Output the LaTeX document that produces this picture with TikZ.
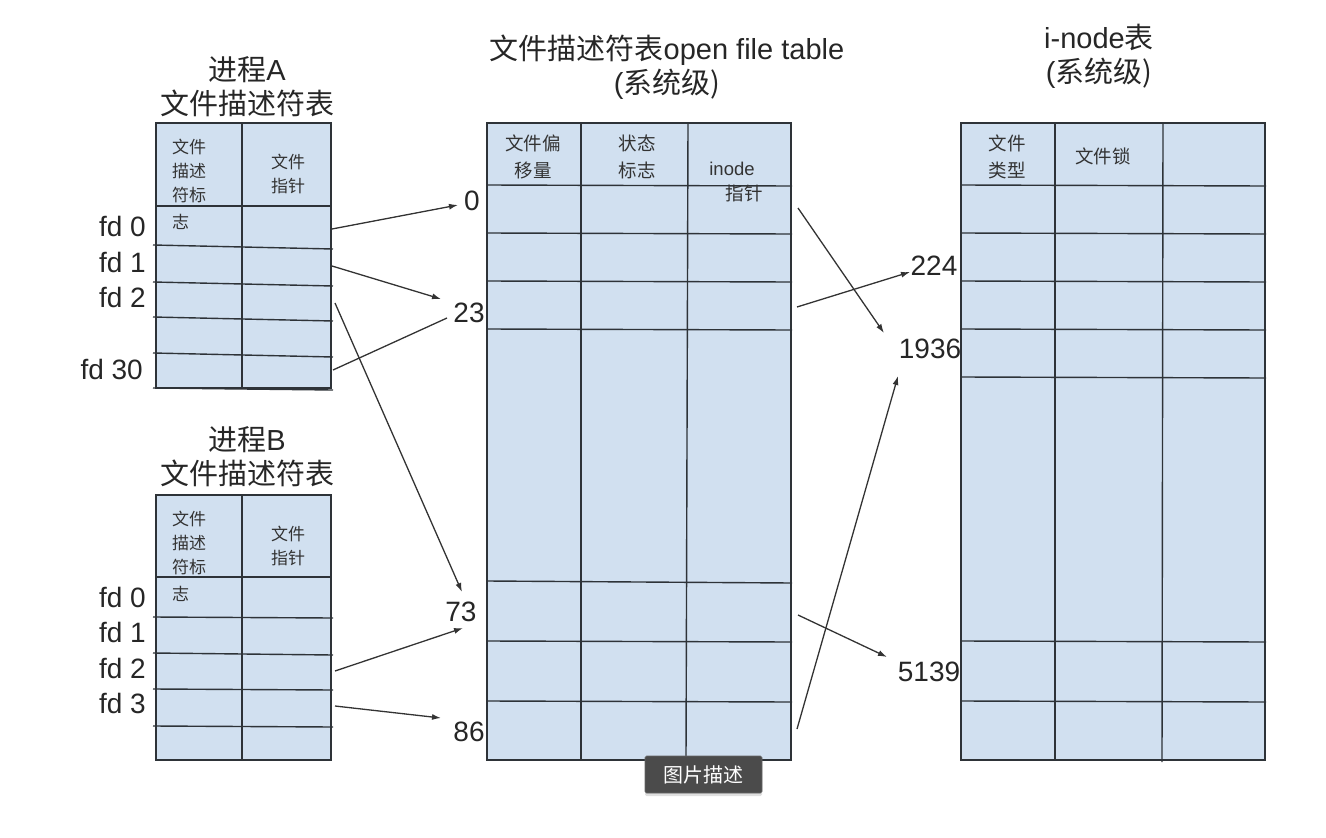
\documentclass[tikz,border=0pt]{standalone}
\usepackage{fontspec}
\setmainfont{Liberation Sans}
\newfontfamily\cjk{Noto Sans CJK SC}
\usetikzlibrary{arrows.meta,shadows}
\definecolor{cellblue}{HTML}{D1E0F0}
\definecolor{gridline}{HTML}{2E3338}
\definecolor{arrowgray}{HTML}{333333}
\definecolor{tipgray}{HTML}{4B4B4B}
\tikzset{
  tablebox/.style={fill=cellblue, draw=gridline, line width=1.6pt},
  gridrule/.style={draw=gridline, line width=1.4pt},
  bigtext/.style={font=\fontsize{29}{33}\selectfont, inner sep=0pt, text=black!85},
  celltext/.style={font=\cjk\fontsize{17}{24}\selectfont, inner sep=0pt, text=black!80, align=center},
  headtext/.style={font=\cjk\fontsize{18.5}{27}\selectfont, inner sep=0pt, text=black!80, align=center},
  lbl/.style={font=\fontsize{28}{32}\selectfont, inner sep=0pt, text=black!85},
  ptr/.style={draw=arrowgray, line width=1.3pt, -{Latex[length=9pt,width=6pt]}},
  plainptr/.style={draw=arrowgray, line width=1.3pt},
}
\begin{document}
\begin{tikzpicture}[x=1pt,y=-1pt]
\useasboundingbox (0,0) rectangle (1326,838);

% ---------- process A descriptor table ----------
\node[bigtext, align=center] (titleA) at (247,87) {{\cjk 进程}A\\[1pt]{\cjk 文件描述符表}};
\fill[cellblue] (156,123) rectangle (331,388);
\draw[gridrule] (156,123) rectangle (331,388);
\draw[gridrule] (242,123) -- (242,388);
\draw[gridrule] (156,206) -- (331,206);
\draw[gridrule] (153,245) -- (333,249);
\draw[gridrule] (153,282) -- (333,286);
\draw[gridrule] (153,317) -- (333,321);
\draw[gridrule] (153,353) -- (333,357);
\draw[gridrule] (153,388) -- (333,390);
\node[celltext, anchor=north west, align=left] (hA1) at (172,139) {文件\\描述\\符标\\[3pt]志};
\node[celltext] (hA2) at (288,174) {文件\\指针};
\node[lbl, anchor=east] (a0) at (146,226) {fd 0};
\node[lbl, anchor=east] (a1) at (146,262) {fd 1};
\node[lbl, anchor=east] (a2) at (146,297) {fd 2};
\node[lbl, anchor=east] (a30) at (143,369) {fd 30};

% ---------- process B descriptor table ----------
\node[bigtext, align=center] (titleB) at (247,457) {{\cjk 进程}B\\[1pt]{\cjk 文件描述符表}};
\fill[cellblue] (156,495) rectangle (331,760);
\draw[gridrule] (156,495) rectangle (331,760);
\draw[gridrule] (242,495) -- (242,760);
\draw[gridrule] (156,577) -- (331,577);
\draw[gridrule] (153,617) -- (333,618);
\draw[gridrule] (153,653) -- (333,655);
\draw[gridrule] (153,689) -- (333,690);
\draw[gridrule] (153,726) -- (333,727);
\node[celltext, anchor=north west, align=left] (hB1) at (172,511) {文件\\描述\\符标\\[3pt]志};
\node[celltext] (hB2) at (288,546) {文件\\指针};
\node[lbl, anchor=east] (b0) at (146,597) {fd 0};
\node[lbl, anchor=east] (b1) at (146,632) {fd 1};
\node[lbl, anchor=east] (b2) at (146,668) {fd 2};
\node[lbl, anchor=east] (b3) at (146,703) {fd 3};

% ---------- open file table ----------
\node[bigtext, align=center] (titleF) at (667,67) {{\cjk 文件描述符表}open file table\\[1pt](\cjk 系统级)};
\fill[cellblue] (487,123) rectangle (791,760);
\draw[gridrule] (487,123) rectangle (791,760);
\draw[gridrule] (581,123) -- (581,760);
\draw[gridrule] (688,123) -- (686,760);
\foreach \yy in {185,233,281,329,641,701}
  \draw[gridrule] (487,\yy) -- (792,\yy+1);
\draw[gridrule] (487,581) -- (792,583);
\node[headtext] (hF1) at (533,157) {文件偏\\移量};
\node[headtext] (hF2) at (637,157) {状态\\标志};
\node[font=\fontsize{18.5}{20}\selectfont, inner sep=0pt, text=black!80] (hF3) at (732,169) {inode};
\node[headtext] (hF4) at (744,193) {指针};
\node[lbl] (n0) at (472,201) {0};
\node[lbl] (n23) at (469,313) {23};
\node[lbl] (n73) at (461,612) {73};
\node[lbl] (n86) at (469,732) {86};

% ---------- i-node table ----------
\node[bigtext, align=center] (titleI) at (1099,56) {i-node{\cjk 表}\\[1pt](\cjk 系统级)};
\fill[cellblue] (961,123) rectangle (1265,760);
\draw[gridrule] (961,123) rectangle (1265,760);
\draw[gridrule] (1055,123) -- (1055,760);
\draw[gridrule] (1163,123) -- (1162,762);
\foreach \yy in {185,233,281,329,377,641,701}
  \draw[gridrule] (961,\yy) -- (1266,\yy+1);
\node[headtext] (hI1) at (1007,157) {文件\\类型};
\node[headtext] (hI2) at (1103,156) {文件锁};
\node[lbl] (n224) at (934,266) {224};
\node[lbl] (n1936) at (930,349) {1936};
\node[lbl] (n5139) at (929,672) {5139};

% ---------- pointer ends ----------
\coordinate (sA0) at (332,229);  \coordinate (eA0) at (458,205);
\coordinate (sA1) at (332,266);  \coordinate (eA1) at (441,299);
\coordinate (sA2) at (335,303);  \coordinate (eA2) at (462,592);
\coordinate (sA30) at (333,370); \coordinate (eA30) at (447,318);
\coordinate (sB2) at (335,671);  \coordinate (eB2) at (463,628);
\coordinate (sB3) at (335,706);  \coordinate (eB3) at (441,718);
\coordinate (sF0) at (798,208);  \coordinate (eF0) at (884,333);
\coordinate (sF1) at (797,307);  \coordinate (eF1) at (910,272);
\coordinate (sF2) at (798,615);  \coordinate (eF2) at (887,657);
\coordinate (sF3) at (797,729);  \coordinate (eF3) at (898,376);

\draw[ptr] (sA0) -- (eA0);
\draw[ptr] (sA1) -- (eA1);
\draw[ptr] (sA2) -- (eA2);
\draw[plainptr] (sA30) -- (eA30);
\draw[ptr] (sB2) -- (eB2);
\draw[ptr] (sB3) -- (eB3);
\draw[ptr] (sF0) -- (eF0);
\draw[ptr] (sF1) -- (eF1);
\draw[ptr] (sF2) -- (eF2);
\draw[ptr] (sF3) -- (eF3);

% ---------- caption tag ----------
\node[fill=tipgray, draw=black!60, line width=0.6pt, rounded corners=1.5pt,
      minimum width=117pt, minimum height=37pt, inner sep=0pt,
      text=white, font=\cjk\fontsize{20}{22}\selectfont,
      drop shadow={shadow xshift=0pt, shadow yshift=-3pt, opacity=0.25}] (tag) at (703.5,774.5) {图片描述};
\end{tikzpicture}
\end{document}
